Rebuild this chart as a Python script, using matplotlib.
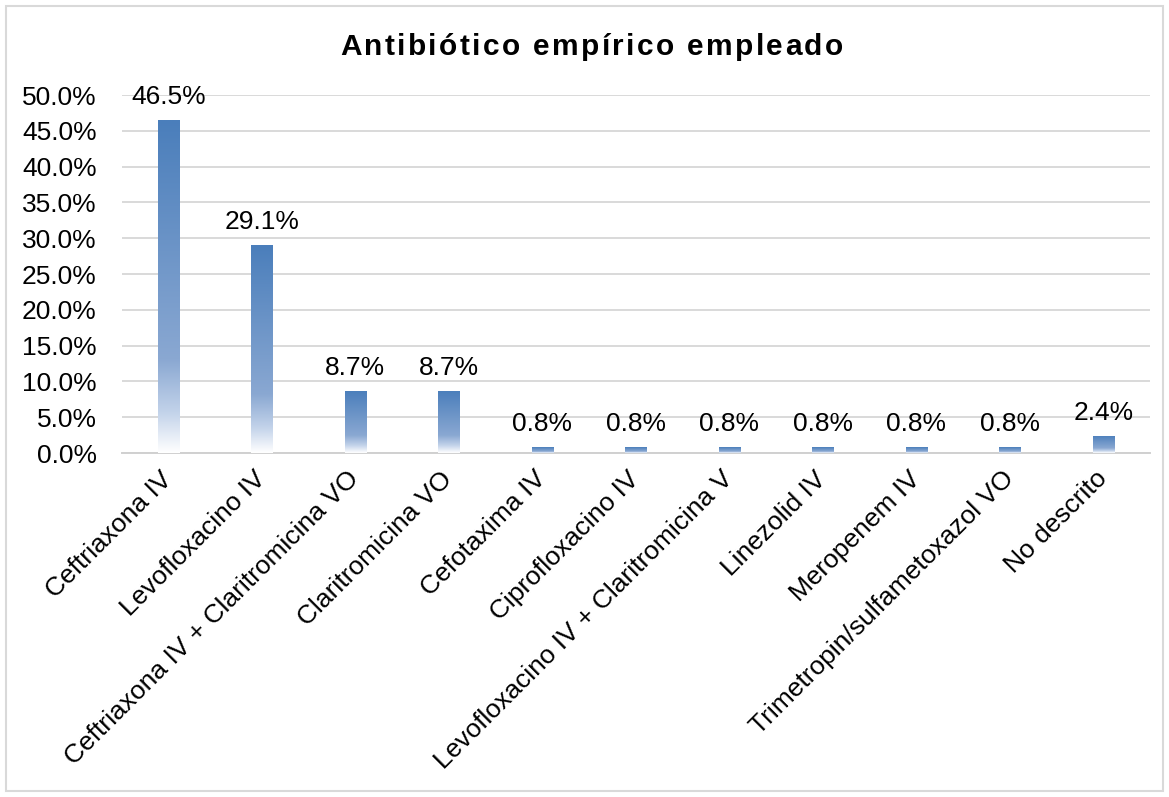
import numpy as np
import matplotlib
matplotlib.use("Agg")
import matplotlib.pyplot as plt
from matplotlib.colors import LinearSegmentedColormap
from matplotlib.patches import Rectangle
from matplotlib.ticker import PercentFormatter

plt.rcParams["font.family"] = ["Liberation Sans", "DejaVu Sans"]

categories = [
    "Ceftriaxona IV",
    "Levofloxacino IV",
    "Ceftriaxona IV + Claritromicina VO",
    "Claritromicina VO",
    "Cefotaxima IV",
    "Ciprofloxacino IV",
    "Levofloxacino IV + Claritromicina V",
    "Linezolid IV",
    "Meropenem IV",
    "Trimetropin/sulfametoxazol VO",
    "No descrito",
]
values = [46.5, 29.1, 8.7, 8.7, 0.8, 0.8, 0.8, 0.8, 0.8, 0.8, 2.4]

title = "Antibiótico empírico empleado"

FS = 19

# gradient used by the bars: dark blue at top, fading to white at the base
grad_cmap = LinearSegmentedColormap.from_list(
    "bar_grad",
    [(0.0, "#4a7ebb"), (0.72, "#8aa8d2"), (0.88, "#c3d3ea"), (1.0, "#ffffff")],
)

fig = plt.figure(figsize=(11.69, 7.97), dpi=100)
ax = fig.add_axes([0.104, 0.4316, 0.88, 0.4492])

x = np.arange(len(categories))
bars = ax.bar(x, values, width=0.23, facecolor="none", edgecolor="none", zorder=3)

grad = np.linspace(0, 1, 256).reshape(-1, 1)
for b in bars:
    x0, y0 = b.get_x(), b.get_y()
    w, h = b.get_width(), b.get_height()
    im = ax.imshow(grad, cmap=grad_cmap, aspect="auto",
                   extent=[x0, x0 + w, y0, y0 + h], origin="upper",
                   zorder=3, interpolation="bilinear")
    im.set_clip_path(b)

for xi, v in zip(x, values):
    ax.annotate(f"{v:.1f}%", (xi, v), xytext=(0, 8), textcoords="offset points",
                ha="center", va="bottom", fontsize=FS, color="black", zorder=4)

ax.set_xlim(-0.5, len(categories) - 0.5)
ax.set_ylim(0, 50)
ax.set_yticks(np.arange(0, 50.1, 5))
ax.yaxis.set_major_formatter(PercentFormatter(decimals=1))
ax.set_xticks(x)
ax.set_xticklabels(categories, rotation=45, ha="right", va="center",
                   rotation_mode="anchor", fontsize=FS)
ax.tick_params(axis="y", labelsize=FS, length=0, pad=18)
ax.tick_params(axis="x", length=0, pad=16)

ax.grid(axis="y", color="#d9d9d9", linewidth=1.4, zorder=0)
ax.set_axisbelow(True)
for s in ["top", "right", "left"]:
    ax.spines[s].set_visible(False)
ax.spines["bottom"].set_color("#d0d0d0")
ax.spines["bottom"].set_linewidth(1.4)

# title drawn letter by letter to get the wide tracking of the original
renderer = fig.canvas.get_renderer()
tkw = dict(fontsize=21.5, fontweight="bold")


def text_w(s):
    t = fig.text(0, 0, s, **tkw)
    w = t.get_window_extent(renderer).width
    t.remove()
    return w


bar_w = text_w("||")
adv = [text_w("|" + ch + "|") - bar_w for ch in title]
target_w = 503.0
track = (target_w - sum(adv)) / (len(title) - 1)
fig_w = fig.get_figwidth() * fig.dpi
cx = 0.506 * fig_w
px = cx - target_w / 2
for ch, a in zip(title, adv):
    fig.text(px / fig_w, 0.931, ch, ha="left", va="baseline", **tkw)
    px += a + track

# chart area border
fig.patches.append(Rectangle((0.005, 0.007), 0.99, 0.986, transform=fig.transFigure,
                             fill=False, edgecolor="#d9d9d9", linewidth=1.5))

fig.savefig("out.png", dpi=100)
